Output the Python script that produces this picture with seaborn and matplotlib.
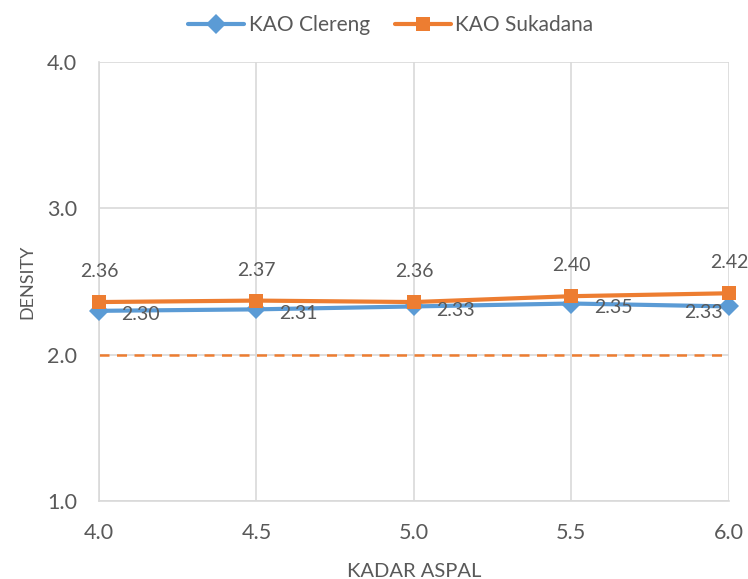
import matplotlib
matplotlib.use("Agg")
import matplotlib.pyplot as plt
import seaborn as sns
import pandas as pd

kadar_aspal = [4.0, 4.5, 5.0, 5.5, 6.0]
clereng = [2.30, 2.31, 2.33, 2.35, 2.33]
sukadana = [2.36, 2.37, 2.36, 2.40, 2.42]
spec_min = 2.0

BLUE = "#5B9BD5"
ORANGE = "#ED7D31"
GREY_TXT = "#595959"
GRID = "#D9D9D9"

sns.set_theme(style="white")
plt.rcParams["font.family"] = ["Lato", "DejaVu Sans"]

df = pd.DataFrame({
    "KADAR ASPAL": kadar_aspal * 2,
    "DENSITY": clereng + sukadana,
    "seri": ["KAO Clereng"] * 5 + ["KAO Sukadana"] * 5,
})

fig = plt.figure(figsize=(7.48, 5.79), dpi=100)
ax = fig.add_axes([0.1324, 0.1347, 0.842, 0.758])

sns.lineplot(data=df, x="KADAR ASPAL", y="DENSITY", hue="seri", style="seri",
             palette={"KAO Clereng": BLUE, "KAO Sukadana": ORANGE},
             markers={"KAO Clereng": "D", "KAO Sukadana": "s"},
             dashes=False, linewidth=3, markersize=10.5, markeredgewidth=0,
             ax=ax, zorder=3, clip_on=False)

ax.axhline(spec_min, color=ORANGE, linestyle=(0, (4, 3)), linewidth=1.8, zorder=2)

ax.set_xlim(4.0, 6.0)
ax.set_ylim(1.0, 4.0)
ax.set_xticks(kadar_aspal)
ax.set_yticks([1.0, 2.0, 3.0, 4.0])
ax.set_xticklabels([f"{v:.1f}" for v in kadar_aspal])
ax.set_yticklabels([f"{v:.1f}" for v in [1.0, 2.0, 3.0, 4.0]])
ax.tick_params(axis="both", labelsize=15.5, colors=GREY_TXT, length=0)
ax.tick_params(axis="x", pad=16)
ax.tick_params(axis="y", pad=16)
ax.grid(True, color=GRID, linewidth=1.2)
ax.set_axisbelow(True)
for side in ["top", "right"]:
    ax.spines[side].set_visible(False)
for side in ["left", "bottom"]:
    ax.spines[side].set_color(GRID)
    ax.spines[side].set_linewidth(1.2)

ax.set_xlabel("KADAR ASPAL", fontsize=14.5, color=GREY_TXT, labelpad=14)
ax.set_ylabel("DENSITY", fontsize=13, color=GREY_TXT, labelpad=8)

# value labels
for x, y in zip(kadar_aspal, sukadana):
    ax.annotate(f"{y:.2f}", (x, y), xytext=(0, 22), textcoords="offset points",
                ha="center", va="center", fontsize=14, color=GREY_TXT,
                annotation_clip=False)
for i, (x, y) in enumerate(zip(kadar_aspal, clereng)):
    dx = -18 if i == len(kadar_aspal) - 1 else 30
    dy = -4.5 if i == len(kadar_aspal) - 1 else -3
    ax.annotate(f"{y:.2f}", (x, y), xytext=(dx, dy), textcoords="offset points",
                ha="center", va="center", fontsize=14, color=GREY_TXT,
                annotation_clip=False)

handles, labels = ax.get_legend_handles_labels()
ax.legend(handles, labels, loc="lower center", bbox_to_anchor=(0.463, 1.0),
          ncol=2, frameon=False, fontsize=15, labelcolor=GREY_TXT,
          handlelength=2.7, columnspacing=1.2, handletextpad=0.2,
          borderaxespad=0.9)

fig.savefig("out.png", dpi=100)
